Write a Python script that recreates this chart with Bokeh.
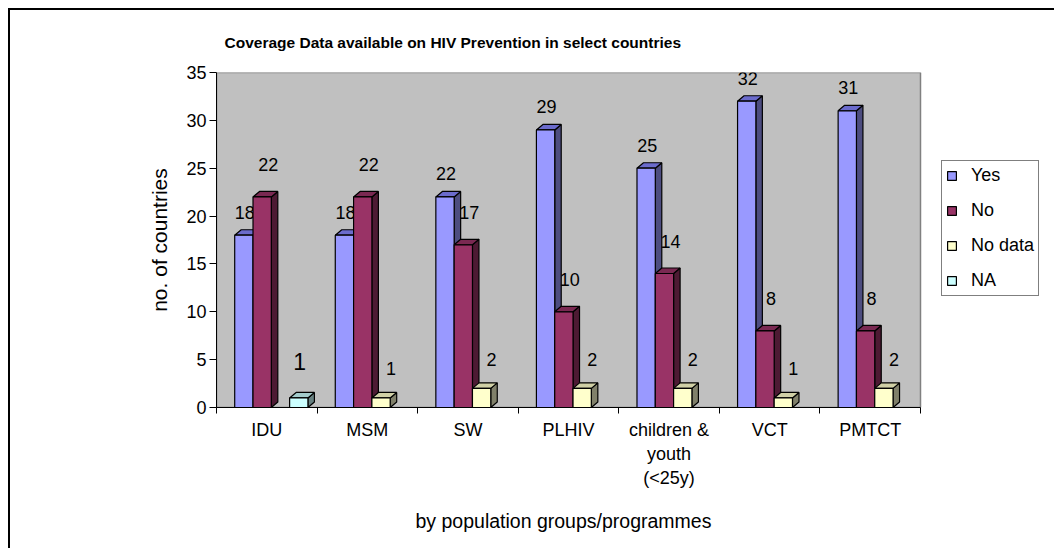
from bokeh.plotting import figure
from bokeh.models import Range1d, FixedTicker, ColumnDataSource, Legend, LegendItem, Title
from bokeh.embed import file_html
from bokeh.resources import INLINE
from bokeh.core.properties import value

# ---------------- data ----------------
categories = ["IDU", "MSM", "SW", "PLHIV", "children & youth (<25y)", "VCT", "PMTCT"]
tick_labels = ["IDU", "MSM", "SW", "PLHIV", "children &\nyouth\n(<25y)", "VCT", "PMTCT"]
series_names = ["Yes", "No", "No data", "NA"]
yes = [18, 18, 22, 29, 25, 32, 31]
no = [22, 22, 17, 10, 14, 8, 8]
no_data = [0, 1, 2, 2, 2, 1, 2]
na = [1, 0, 0, 0, 0, 0, 0]
y_ticks = [0, 5, 10, 15, 20, 25, 30, 35]

title_text = "Coverage Data available on HIV Prevention in select countries"
x_title = "by population groups/programmes"
y_title = "no. of countries"

# ---------------- styles ----------------
FONT = "Liberation Sans"
front_colors = ["#9999FF", "#993366", "#FFFFCC", "#CCFFFF"]
top_colors = ["#6B6BCC", "#7A2952", "#D0D0A6", "#A3CCCC"]
side_colors = ["#4D4D80", "#4D1A33", "#80806A", "#668080"]
label_dx = [1, 6, 10, 1]
label_dy = [-23, -32, -29, -36]
label_size = ["18px", "18px", "18px", "23px"]

CANVAS_W, CANVAS_H = 1046, 540
BORDER_L, BORDER_R = 206, 0
BORDER_T = 61
BORDER_B = CANVAS_H - BORDER_T - 336
PLOT_W, FRAME_H = 704, 336           # width of the grey plot area, frame height
FRAME_W = CANVAS_W - BORDER_L - BORDER_R
X0, X1 = -0.5, len(categories) - 0.5
Y0, Y1 = 0, 35
X_END = X0 + (X1 - X0) * FRAME_W / PLOT_W   # frame extends to the right to hold the legend
GROUP_PAD = 0.181      # empty space before first bar (category units)
SLOT = 0.182           # bar width (category units)
DX = 6.5 * (X1 - X0) / PLOT_W    # 3D depth in x (data units)
DY = 5.5 * (Y1 - Y0) / FRAME_H   # 3D depth in y (data units)

p = figure(width=CANVAS_W, height=CANVAS_H, output_backend="svg", toolbar_location=None,
           x_range=Range1d(X0, X_END), y_range=Range1d(Y0, Y1),
           min_border_left=BORDER_L, min_border_right=BORDER_R, min_border_top=BORDER_T,
           min_border_bottom=BORDER_B,
           background_fill_color="white", border_fill_color="white",
           outline_line_color=None)
p.styles = {"margin-left": "10px", "margin-top": "10px",
            "box-shadow": "-2px -2px 0px 0px black"}
p.xgrid.visible = False
p.ygrid.visible = False

# grey plot area
p.quad(left=[X0], right=[X1], bottom=[Y0], top=[Y1], fill_color="#C0C0C0",
       line_color="#808080", line_width=1.5)

all_series = [yes, no, no_data, na]
legend_items = []
for s, vals in enumerate(all_series):
    xc, tops, side_xs, side_ys, top_xs, top_ys, labels = [], [], [], [], [], [], []
    for i, v in enumerate(vals):
        if v == 0:
            continue
        x0 = i - 0.5 + GROUP_PAD + s * SLOT
        x1 = x0 + SLOT
        xc.append((x0 + x1) / 2)
        tops.append(v)
        labels.append(str(v))
        side_xs.append([x1, x1, x1 + DX, x1 + DX])
        side_ys.append([0, v, v + DY, DY])
        top_xs.append([x0, x1, x1 + DX, x0 + DX])
        top_ys.append([v, v, v + DY, v + DY])
    p.patches(side_xs, side_ys, fill_color=side_colors[s], line_color="black", line_width=1.2)
    p.patches(top_xs, top_ys, fill_color=top_colors[s], line_color="black", line_width=1.2)
    r = p.vbar(x=xc, top=tops, bottom=0, width=SLOT, fill_color=front_colors[s],
               line_color="black", line_width=1.2)
    legend_items.append(LegendItem(label=series_names[s], renderers=[r]))
    src = ColumnDataSource(dict(x=xc, y=tops, t=labels))
    p.text(x="x", y="y", text="t", source=src, x_offset=label_dx[s], y_offset=label_dy[s],
           text_align="center", text_baseline="middle", text_font=value(FONT),
           text_font_size=label_size[s], text_color="black")

# axes
p.yaxis.ticker = FixedTicker(ticks=y_ticks)
p.yaxis.major_tick_out = 7
p.yaxis.major_tick_in = 0
p.yaxis.minor_tick_out = 0
p.yaxis.minor_tick_in = 0
p.yaxis.major_label_standoff = 3
p.yaxis.major_label_text_font = FONT
p.yaxis.major_label_text_font_size = "18px"
p.yaxis.major_label_text_color = "black"
p.yaxis.axis_line_color = "black"
p.yaxis.major_tick_line_color = "black"
p.yaxis.axis_label = y_title
p.yaxis.axis_label_text_font = FONT
p.yaxis.axis_label_text_font_size = "21px"
p.yaxis.axis_label_text_font_style = "normal"
p.yaxis.axis_label_text_color = "black"
p.yaxis.axis_label_standoff = 12

p.xaxis.bounds = (X0, X1)
p.xaxis.ticker = FixedTicker(ticks=list(range(len(categories))),
                             minor_ticks=[i - 0.5 for i in range(len(categories) + 1)])
p.xaxis.major_label_overrides = {i: t for i, t in enumerate(tick_labels)}
p.xaxis.major_tick_out = 0
p.xaxis.major_tick_in = 0
p.xaxis.minor_tick_out = 6
p.xaxis.minor_tick_in = 0
p.xaxis.minor_tick_line_color = "black"
p.xaxis.axis_line_color = "black"
p.xaxis.major_label_standoff = 6
p.xaxis.major_label_text_font = FONT
p.xaxis.major_label_text_font_size = "18px"
p.xaxis.major_label_text_color = "black"

p.title = Title(text=title_text, align="left", offset=8, text_font=FONT, text_font_size="15.5px",
                text_font_style="bold", text_color="black", standoff=43)
p.add_layout(Title(text=x_title, align="left", offset=199, text_font=FONT,
                   text_font_size="19.5px", text_font_style="normal", text_color="black",
                   standoff=35), "below")

legend = Legend(items=legend_items, location=(725, 111), orientation="vertical",
                glyph_width=11, glyph_height=11, label_height=21, spacing=14, padding=4,
                margin=0, label_standoff=14, label_text_font=FONT, label_text_font_size="18px",
                label_text_color="black", border_line_color="black", border_line_width=1,
                background_fill_color="white", background_fill_alpha=1)
p.add_layout(legend, "center")

open("out.html", "w").write(file_html(p, INLINE))
